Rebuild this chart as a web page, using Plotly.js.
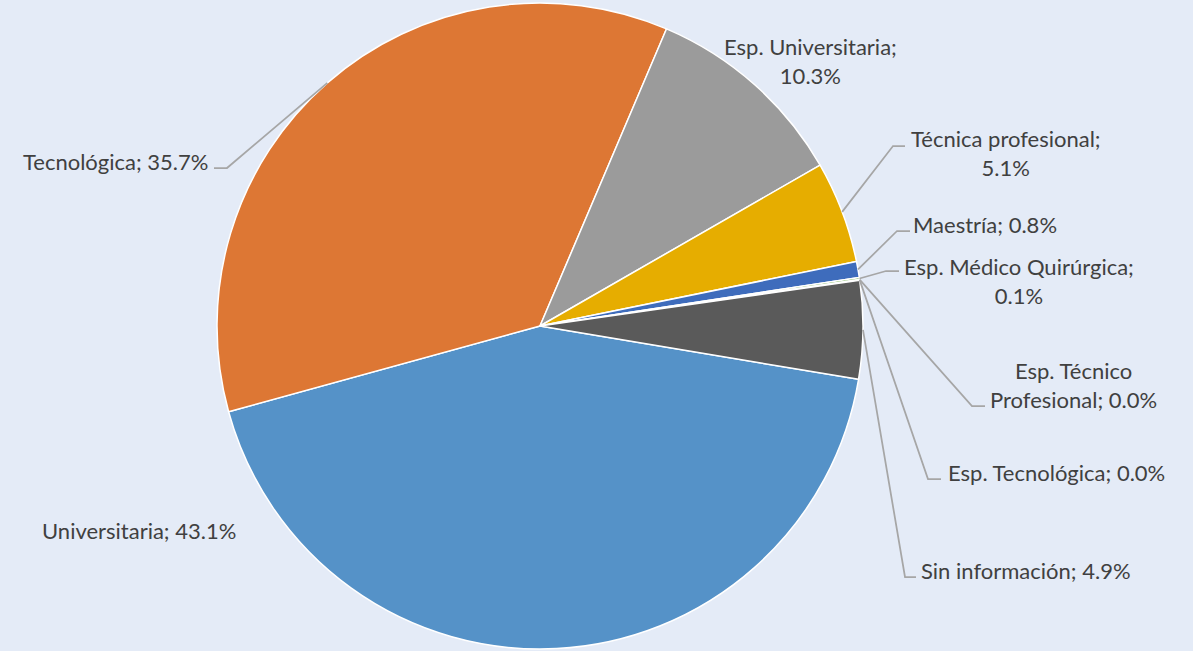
<!DOCTYPE html>
<html><head><meta charset="utf-8">
<script src="https://cdn.plot.ly/plotly-3.0.1.min.js"></script>
<style>html,body{margin:0;padding:0;background:#e4ebf7;overflow:hidden}#chart{width:1193px;height:651px}</style>
</head><body><div id="chart"></div>
<script>
// ---- data ----
const categories = ["Universitaria","Tecnológica","Esp. Universitaria","Técnica profesional","Maestría","Esp. Médico Quirúrgica","Esp. Técnico Profesional","Esp. Tecnológica","Sin información"];
const shares = [43.1, 35.7, 10.3, 5.1, 0.8, 0.1, 0.02, 0.02, 4.9];
const sliceColors = ["#5592c8","#dd7734","#9b9b9b","#e6ad00","#3e6cbc","#70ad47","#264478","#9e480e","#5a5a5a"];

// ---- layout ----
const W = 1193, H = 651;
const CX = 540, CY = 326, R = 323;
const ROT = 99.5;
const labelCfg = [
  {x:238, y:530, xa:"right", brk:null, elbow:null},
  {x:210, y:161, xa:"right", brk:null, elbow:[[227,168],[214,168]]},
  {x:810, y:61,  xa:"center", brk:"; ", elbow:null},
  {x:1006,y:153, xa:"center", brk:"; ", elbow:[[893,146],[905,146]]},
  {x:911, y:224, xa:"left", brk:null, elbow:[[897,231],[910,231]]},
  {x:1019,y:281, xa:"center", brk:"; ", elbow:[[886,271],[899,271]]},
  {x:1073,y:385, xa:"center", brk:"Técnico ", elbow:[[972,406],[985,406]]},
  {x:946, y:472, xa:"left", brk:null, elbow:[[928,479],[941,479]]},
  {x:919, y:570, xa:"left", brk:null, elbow:[[905,577],[916,577]]}
];

const px = x => x / W, py = y => 1 - y / H;
const total = shares.reduce((a,b)=>a+b,0);
let cum = 0;
const annotations = [], shapes = [];
shares.forEach((v,i)=>{
  const a0 = ROT + cum/total*360; cum += v;
  const a1 = ROT + cum/total*360;
  const mid = (a0+a1)/2*Math.PI/180;
  const sx = CX + R*Math.sin(mid), sy = CY - R*Math.cos(mid);
  const c = labelCfg[i];
  let txt = categories[i] + "; " + v.toFixed(1) + "%";
  if (c.brk) {
    const k = txt.indexOf(c.brk);
    txt = txt.slice(0,k) + c.brk.trimEnd() + "<br>" + txt.slice(k + c.brk.length);
  }
  annotations.push({xref:"paper", yref:"paper", x:px(c.x), y:py(c.y), xanchor:c.xa, yanchor:"middle",
    align:"center", text:txt, showarrow:false,
    font:{family:"Lato, 'Open Sans', sans-serif", size:22, color:"#404040"}});
  if (c.elbow) {
    let d = "M" + px(sx) + "," + py(sy);
    c.elbow.forEach(p => { d += " L" + px(p[0]) + "," + py(p[1]); });
    shapes.push({type:"path", xref:"paper", yref:"paper", path:d, line:{color:"#a6a6a6", width:1.75}});
  }
});

const trace = {
  type:"pie", labels:categories, values:shares, sort:false, direction:"clockwise", rotation:ROT,
  marker:{colors:sliceColors, line:{color:"#ffffff", width:1.5}},
  textinfo:"none", hoverinfo:"label+percent",
  domain:{x:[(CX-R)/W, (CX+R)/W], y:[1-(CY+R)/H, 1-(CY-R)/H]}
};
Plotly.newPlot("chart", [trace], {
  width:W, height:H, margin:{l:0,r:0,t:0,b:0},
  paper_bgcolor:"#e4ebf7", plot_bgcolor:"#e4ebf7", showlegend:false,
  annotations:annotations, shapes:shapes
}, {displayModeBar:false, staticPlot:true});
</script></body></html>
